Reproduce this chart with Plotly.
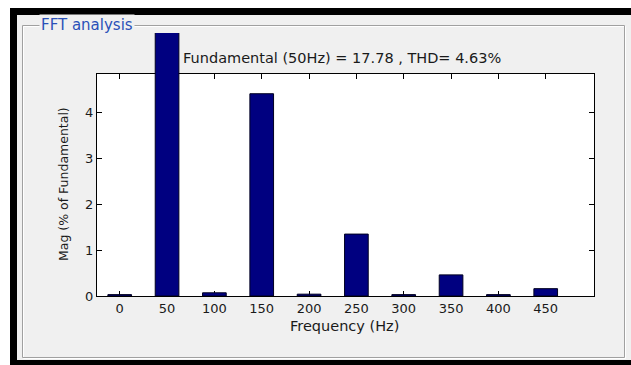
import plotly.graph_objects as go

# ---- data ----
freqs = [0, 50, 100, 150, 200, 250, 300, 350, 400, 450]
mag_pct = [0.03, 100.0, 0.07, 4.41, 0.04, 1.35, 0.03, 0.46, 0.03, 0.16]
x_ticks = [0, 50, 100, 150, 200, 250, 300, 350, 400, 450]
y_ticks = [0, 1, 2, 3, 4]
title_text = "Fundamental (50Hz) = 17.78 , THD= 4.63%"
panel_title = "FFT analysis"
x_label = "Frequency (Hz)"
y_label = "Mag (% of Fundamental)"
x_range = [-24, 501]
y_max = 4.84

# ---- layout constants (pixels) ----
W, H = 631, 365
AX_L, AX_R, AX_T, AX_B = 97, 594, 74, 296
BAR_TOP = 33
FONT = "DejaVu Sans"


def fx(px):
    return px / W


def fy(py):
    return 1 - py / H


y3_max = y_max * (AX_B - BAR_TOP) / (AX_B - AX_T)

fig = go.Figure()
# empty traces so that the box axes (left/bottom, top, right) are rendered
for xa, ya in [("x", "y"), ("x2", "y"), ("x", "y2")]:
    fig.add_trace(go.Scatter(x=[None], y=[None], xaxis=xa, yaxis=ya,
                             showlegend=False, hoverinfo="skip", mode="markers"))
fig.add_trace(go.Bar(
    x=freqs, y=mag_pct, width=25,
    marker=dict(color="#000080", line=dict(color="#000020", width=1)),
    xaxis="x", yaxis="y3", showlegend=False, hoverinfo="skip",
))

axis_common = dict(showline=True, linecolor="black", linewidth=1, ticks="inside",
                   ticklen=5, tickcolor="black", tickwidth=1, showgrid=False,
                   zeroline=False, automargin=False,
                   tickfont=dict(family=FONT, size=13, color="#1a1a1a"))

fig.update_layout(
    width=W, height=H, autosize=False,
    margin=dict(l=0, r=0, t=0, b=0, pad=0, autoexpand=False),
    paper_bgcolor="#f0f0f0",
    plot_bgcolor="rgba(0,0,0,0)",
    xaxis=dict(domain=[fx(AX_L), fx(AX_R)], range=x_range, tickvals=x_ticks,
               anchor="y", **axis_common),
    xaxis2=dict(overlaying="x", matches="x", side="top", anchor="y",
                tickvals=x_ticks, showticklabels=False, **axis_common),
    yaxis=dict(domain=[fy(AX_B), fy(AX_T)], range=[0, y_max], tickvals=y_ticks,
               anchor="x", **axis_common),
    yaxis2=dict(overlaying="y", matches="y", side="right", anchor="x",
                tickvals=y_ticks, showticklabels=False, **axis_common),
    yaxis3=dict(domain=[fy(AX_B), fy(BAR_TOP)], range=[0, y3_max], anchor="x",
                visible=False, fixedrange=True),
    showlegend=False,
)


def rect(x0, x1, y0, y1, fill):
    return dict(type="rect", xref="paper", yref="paper", x0=fx(x0), x1=fx(x1),
                y0=fy(y1), y1=fy(y0), fillcolor=fill, line=dict(width=0), layer="below")


shapes = [
    # white outer strips (top / left)
    rect(0, W, 0, 8, "white"),
    rect(0, 10, 0, H, "white"),
    # black screenshot frame: top, left, bottom
    rect(10, W, 8, 15, "black"),
    rect(10, 17, 8, H, "black"),
    rect(10, W, 360, H, "black"),
    # etched group box (highlight + shadow)
    dict(type="rect", xref="paper", yref="paper", x0=fx(23.5), x1=fx(625.5),
         y0=fy(26.5), y1=fy(358.5), line=dict(color="white", width=1), layer="below"),
    dict(type="rect", xref="paper", yref="paper", x0=fx(22.5), x1=fx(624.5),
         y0=fy(25.5), y1=fy(357.5), line=dict(color="#a0a0a0", width=1), layer="below"),
    # white axes area
    rect(AX_L, AX_R, AX_T, AX_B, "white"),
]
fig.update_layout(shapes=shapes)

ann = [
    dict(text=title_text, x=fx((AX_L + AX_R) / 2 - 4), y=fy(58), xref="paper", yref="paper",
         showarrow=False, xanchor="center", yanchor="middle",
         font=dict(family=FONT, size=14.5, color="#1a1a1a")),
    dict(text=panel_title, x=fx(39), y=fy(25), xref="paper", yref="paper",
         showarrow=False, xanchor="left", yanchor="middle", bgcolor="#f0f0f0",
         borderpad=1, font=dict(family=FONT, size=15, color="#2a50b8")),
    dict(text=x_label, x=fx(344), y=fy(326), xref="paper", yref="paper",
         showarrow=False, xanchor="center", yanchor="middle",
         font=dict(family=FONT, size=14.5, color="#1a1a1a")),
    dict(text=y_label, x=fx(63), y=fy(184), xref="paper", yref="paper",
         showarrow=False, xanchor="center", yanchor="middle", textangle=-90,
         font=dict(family=FONT, size=12.5, color="#1a1a1a")),
]
fig.update_layout(annotations=ann)

fig.write_html("out.html")
